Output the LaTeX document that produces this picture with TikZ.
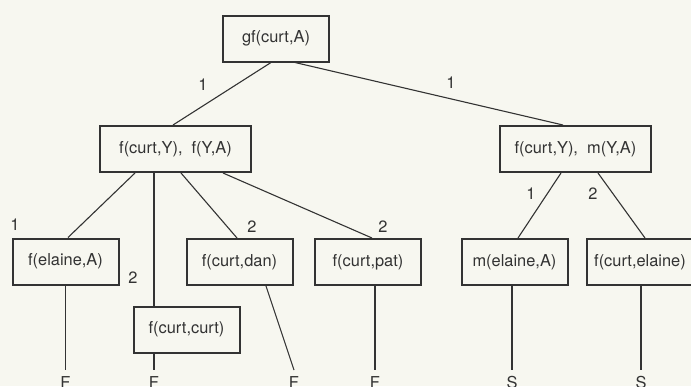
\documentclass[tikz,border=0pt]{standalone}
\usepackage{fontspec}
\setmainfont{TeX Gyre Heros}
\usepackage{xcolor}
\usepackage{tikz}
\usetikzlibrary{backgrounds}
\definecolor{carta}{rgb}{0.97,0.97,0.94}
\definecolor{inchiostro}{rgb}{0.2,0.2,0.2}

\begin{document}
\begin{tikzpicture}[x=0.5pt,y=-0.5pt,
        scatola/.style={draw=inchiostro,line width=1pt,minimum width=53pt,minimum height=23pt,
                        inner sep=2pt,font=\fontsize{8.2}{10}\selectfont,text=inchiostro},
        foglia/.style={anchor=north,inner sep=3pt,font=\fontsize{8.2}{10}\selectfont,text=inchiostro},
        peso/.style={font=\fontsize{8.2}{10}\selectfont,text=inchiostro},
        ramo/.style={draw=inchiostro,line width=0.55pt}]

        % Sfondo e cornice
    \fill[carta] (0,0) rectangle (691,386);
    \clip (0,0) rectangle (691,386);

        % Radice
    \node[scatola] (gf) at (276,38.5) {gf(curt,A)};

        % Secondo livello
    \node[scatola,minimum width=75.5pt] (lmid) at (175.5,149) {f(curt,Y),\ \ f(Y,A)};
    \node[scatola,minimum width=75.5pt] (rmid) at (575.5,149) {f(curt,Y),\ \ m(Y,A)};

        % Terzo livello
    \node[scatola] (elaine) at (65.5,261.5) {f(elaine,A)};
    \node[scatola] (cc)     at (186.5,329.5) {f(curt,curt)};
    \node[scatola] (dan)    at (239.5,262) {f(curt,dan)};
    \node[scatola] (pat)    at (368,262) {f(curt,pat)};
    \node[scatola] (mel)    at (514.5,262) {m(elaine,A)};
    \node[scatola] (cel)    at (640,262) {f(curt,elaine)};

        % Foglie
    \node[foglia] (f1) at (65.5,370) {F};
    \node[foglia] (f2) at (154,370) {F};
    \node[foglia] (f3) at (294,370) {F};
    \node[foglia] (f4) at (375,370) {F};
    \node[foglia] (s1) at (512,370) {S};
    \node[foglia] (s2) at (641,370) {S};

        % Rami
    \draw[ramo] ([xshift=-2.5pt]gf.south) -- ([xshift=-1.25pt]lmid.north);
    \draw[ramo] ([xshift=9.5pt]gf.south) -- ([xshift=-6.25pt]rmid.north);

    \draw[ramo] ([xshift=-20.25pt]lmid.south) -- ([xshift=1.25pt]elaine.north);
    \draw[ramo] ([xshift=-10.75pt]lmid.south) -- ([xshift=-16.25pt]cc.north);
    \draw[ramo] ([xshift=2.75pt]lmid.south) -- ([xshift=-1.25pt]dan.north);
    \draw[ramo] ([xshift=23.75pt]lmid.south) -- ([xshift=2pt]pat.north);

    \draw[ramo] ([xshift=-7.25pt]rmid.south) -- ([xshift=1.75pt]mel.north);
    \draw[ramo] ([xshift=11.25pt]rmid.south) -- ([xshift=2.5pt]cel.north);

    \draw[ramo] (elaine.south) -- (f1.north);
    \draw[ramo] ([xshift=-16.25pt]cc.south) -- (f2.north);
    \draw[ramo] ([xshift=13.25pt]dan.south) -- (f3.north);
    \draw[ramo] ([xshift=3.5pt]pat.south) -- (f4.north);
    \draw[ramo] ([xshift=-1.25pt]mel.south) -- (s1.north);
    \draw[ramo] ([xshift=0.5pt]cel.south) -- (s2.north);

        % Pesi dei rami
    \node[peso] (p1) at (203,85) {1};
    \node[peso] (p2) at (451,83) {1};
    \node[peso] (p3) at (15,225) {1};
    \node[peso] (p4) at (133,278) {2};
    \node[peso] (p5) at (252,227) {2};
    \node[peso] (p6) at (383,227) {2};
    \node[peso] (p7) at (531,194) {1};
    \node[peso] (p8) at (593,194) {2};

\end{tikzpicture}
\end{document}
